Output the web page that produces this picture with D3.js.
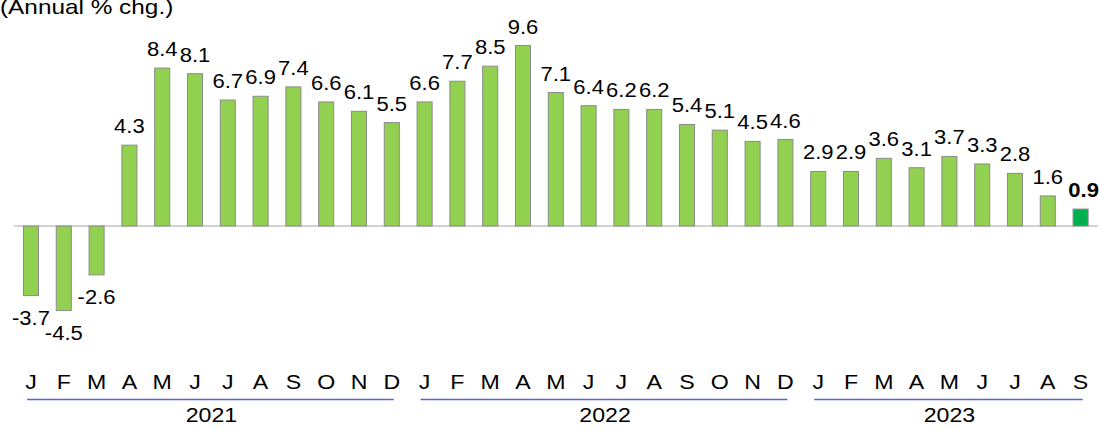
<html lang="en">
<head>
    <meta charset="UTF-8">
    <title>Annual % chg.</title>
    <script src="https://d3js.org/d3.v7.min.js"></script>
    <style>
        body { margin: 0; background: #fff; }
        svg { display: block; font-family: "Liberation Sans", Arial, sans-serif; }
        .value-label { font-size: 19.5px; fill: #000; }
        .value-label.last { font-weight: bold; }
        .month-label, .year-label { font-size: 20.5px; fill: #000; }
        .title { font-size: 21px; fill: #000; }
    </style>
</head>
<body>
    <svg width="1099" height="430"></svg>

    <script>
        // data
        const months = ["J","F","M","A","M","J","J","A","S","O","N","D",
                        "J","F","M","A","M","J","J","A","S","O","N","D",
                        "J","F","M","A","M","J","J","A","S"];
        const years = ["2021", "2022", "2023"];
        const monthsPerYear = [12, 12, 9];
        const values = [-3.7, -4.5, -2.6, 4.3, 8.4, 8.1, 6.7, 6.9, 7.4, 6.6, 6.1, 5.5,
                        6.6, 7.7, 8.5, 9.6, 7.1, 6.4, 6.2, 6.2, 5.4, 5.1, 4.5, 4.6,
                        2.9, 2.9, 3.6, 3.1, 3.7, 3.3, 2.8, 1.6, 0.9];
        const labels = values.map(v => v.toFixed(1));

        const width = 1099, height = 430;
        const stretch = 1.13; // text in the original looks a bit wide

        const svg = d3.select("svg");

        const x = d3.scaleBand()
            .domain(d3.range(values.length))
            .range([14.6, 1097])
            .paddingInner(0.51)
            .paddingOuter(0.255);

        const y = d3.scaleLinear()
            .domain([-4.5, 9.6])
            .range([226 + 4.5 * 18.8, 226 - 9.6 * 18.8]);

        const cx = i => x(i) + x.bandwidth() / 2;
        const last = values.length - 1;

        // title (sits partly above the top edge, like the original)
        svg.append("text")
            .attr("class", "title")
            .attr("transform", `translate(0,14) scale(1.16,1)`)
            .text("(Annual % chg.)");

        // zero line
        svg.append("line")
            .attr("x1", 14).attr("x2", 1098)
            .attr("y1", y(0)).attr("y2", y(0))
            .attr("stroke", "#a6a6a6")
            .attr("stroke-width", 1);

        // bars
        svg.selectAll("rect.bar")
            .data(values)
            .enter().append("rect")
            .attr("class", "bar")
            .attr("x", (d, i) => x(i) + 0.5)
            .attr("y", d => y(Math.max(0, d)))
            .attr("width", x.bandwidth() - 1)
            .attr("height", d => Math.abs(y(d) - y(0)))
            .attr("fill", (d, i) => i === last ? "#00b050" : "#92d050")
            .attr("stroke", "#8c8c8c")
            .attr("stroke-width", 1);

        // value labels
        svg.selectAll("text.value-label")
            .data(values)
            .enter().append("text")
            .attr("class", (d, i) => i === last ? "value-label last" : "value-label")
            .attr("text-anchor", "middle")
            .attr("transform", (d, i) => {
                const ty = d >= 0 ? y(d) - 12 : y(d) + 29;
                const tx = i === last ? cx(i) + 3 : cx(i);
                return `translate(${tx},${ty}) scale(${stretch},1)`;
            })
            .text((d, i) => labels[i]);

        // month labels
        svg.selectAll("text.month-label")
            .data(months)
            .enter().append("text")
            .attr("class", "month-label")
            .attr("text-anchor", "middle")
            .attr("transform", (d, i) => `translate(${cx(i)},389) scale(${stretch},1)`)
            .text(d => d);

        // year underlines and labels
        let start = 0;
        years.forEach((yr, k) => {
            const first = start, end = start + monthsPerYear[k] - 1;
            svg.append("line")
                .attr("x1", cx(first) - 4).attr("x2", cx(end) + 2)
                .attr("y1", 399.5).attr("y2", 399.5)
                .attr("stroke", "#5563d2")
                .attr("stroke-width", 1.5);
            svg.append("text")
                .attr("class", "year-label")
                .attr("text-anchor", "middle")
                .attr("transform", `translate(${(cx(first) + cx(end)) / 2},422) scale(${stretch},1)`)
                .text(yr);
            start += monthsPerYear[k];
        });
    </script>
</body>
</html>
